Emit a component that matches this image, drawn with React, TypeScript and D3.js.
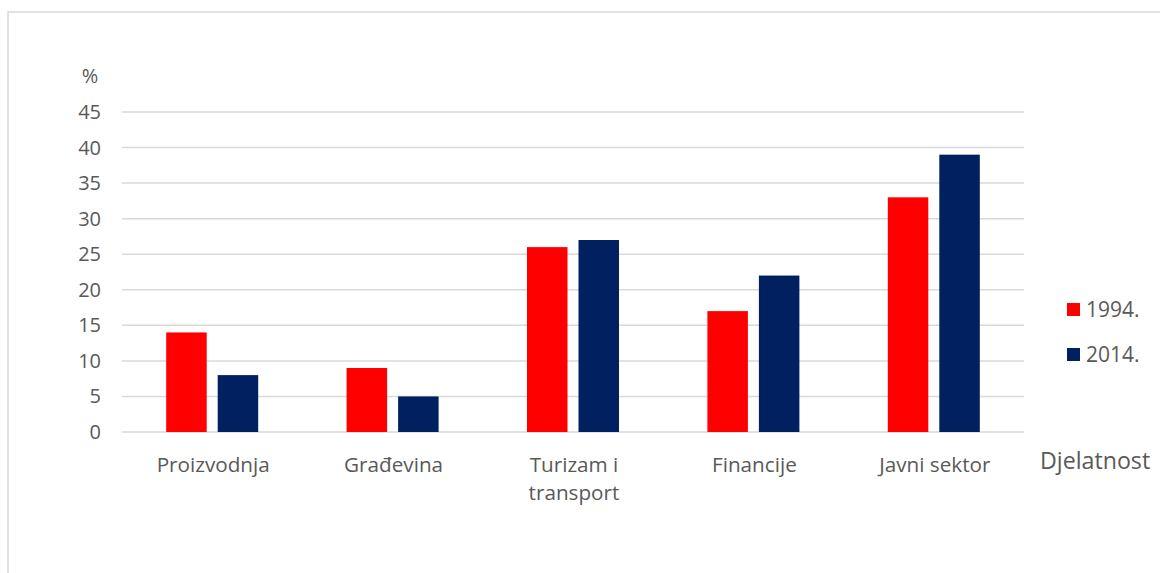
import React from "react";
import * as d3 from "d3";

const categories = ["Proizvodnja", "Građevina", "Turizam i transport", "Financije", "Javni sektor"];
const categoryLines = [["Proizvodnja"], ["Građevina"], ["Turizam i", "transport"], ["Financije"], ["Javni sektor"]];
const series = ["1994.", "2014."];
const values1994 = [14, 9, 26, 17, 33];
const values2014 = [8, 5, 27, 22, 39];
const yTicks = [0, 5, 10, 15, 20, 25, 30, 35, 40, 45];
const colors = ["#ff0000", "#002060"];

export default function App() {
  const W = 1160, H = 573;
  const left = 122, right = 1024, top = 112, bottom = 432;
  const x = d3.scaleBand().domain(categories).range([left, right]).paddingInner(0).paddingOuter(0);
  const y = d3.scaleLinear().domain([0, 45]).range([bottom, top]);
  const barW = 40.5;
  const gap = 11;
  const all = [values1994, values2014];
  const font = "'Open Sans', sans-serif";
  return (
    <svg width={W} height={H} style={{ position: "absolute", left: 0, top: 0, background: "#fff" }} fontFamily={font}>
      <rect x={8} y={12} width={W} height={H} fill="#fff" stroke="#d9d9d9" strokeWidth={1.5} />
      {yTicks.map((t) => (
        <g key={t}>
          <line x1={left} x2={right} y1={y(t)} y2={y(t)} stroke="#d9d9d9" strokeWidth={1.5} />
          <text x={101} y={y(t)} dy="0.35em" textAnchor="end" fontSize={20} fill="#595959">{t}</text>
        </g>
      ))}
      <text x={90} y={76} dy="0.35em" textAnchor="middle" fontSize={20} fill="#595959">%</text>
      {categories.map((c, i) => {
        const cx = (x(c) as number) + x.bandwidth() / 2;
        return (
          <g key={c}>
            {all.map((vals, s) => {
              const bx = s === 0 ? cx - gap / 2 - barW : cx + gap / 2;
              return (
                <rect key={s} x={bx} y={y(vals[i])} width={barW} height={y(0) - y(vals[i])} fill={colors[s]} />
              );
            })}
            {categoryLines[i].map((ln, k) => (
              <text key={k} x={cx + 1} y={465 + k * 28} dy="0.35em" textAnchor="middle" fontSize={20.7} fill="#595959">{ln}</text>
            ))}
          </g>
        );
      })}
      {series.map((s, i) => (
        <g key={s}>
          <rect x={1067} y={303 + i * 45} width={13} height={13} fill={colors[i]} />
          <text x={1086} y={310 + i * 45} dy="0.35em" fontSize={21} fill="#595959">{s}</text>
        </g>
      ))}
      <text x={1040} y={461} dy="0.35em" fontSize={23.2} fill="#595959">Djelatnost</text>
    </svg>
  );
}
